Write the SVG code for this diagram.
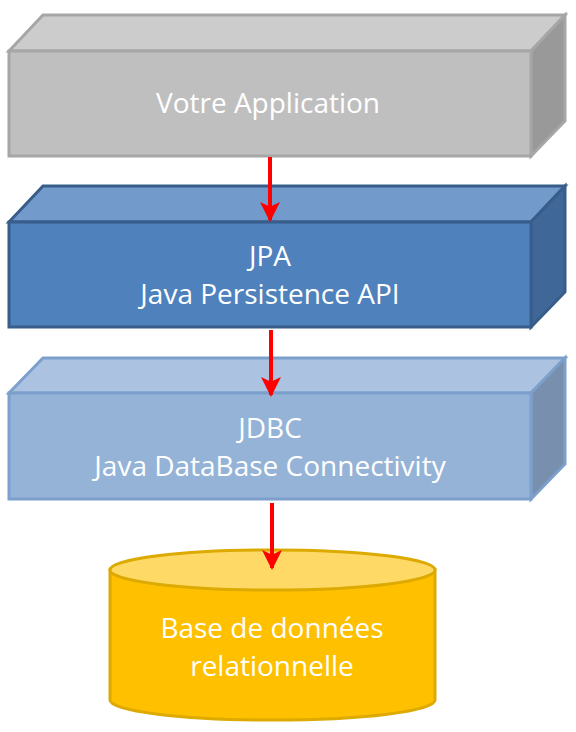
<svg xmlns="http://www.w3.org/2000/svg" width="576" height="732" viewBox="0 0 576 732">
<defs>
<style>
.t{font-family:"Open Sans","Noto Sans","Liberation Sans",sans-serif;font-size:28px;fill:#ffffff;text-anchor:middle}
.s{stroke-width:3;stroke-linejoin:miter}
.arr{stroke:#ff0000;stroke-width:4;fill:none}
</style>
<marker id="ah" markerWidth="5" markerHeight="5" refX="4.5" refY="2.5" orient="auto" markerUnits="strokeWidth">
<path d="M0,0 L5,2.5 L0,5 L1.2,2.5 Z" fill="#ff0000"/>
</marker>
</defs>
<rect width="576" height="732" fill="#ffffff"/>
<g id="app">
<polygon class="s" points="9,51 43,15 565,15 531,51" fill="#cccccc" stroke="#a6a6a6"/>
<polygon class="s" points="531,51 565,15 565,121 531,156" fill="#999999" stroke="#a6a6a6"/>
<rect class="s" x="9" y="51" width="522" height="105" fill="#bfbfbf" stroke="#a6a6a6"/>
<text class="t" x="268" y="113">Votre Application</text>
</g>
<g id="jpa">
<polygon class="s" points="9,222 43,186 565,186 531,222" fill="#729aca" stroke="#385d8a"/>
<polygon class="s" points="531,222 565,186 565,292 531,327" fill="#3f6797" stroke="#385d8a"/>
<rect class="s" x="9" y="222" width="522" height="105" fill="#4f81bd" stroke="#385d8a"/>
<text class="t" x="270" y="266">JPA</text>
<text class="t" x="270" y="304">Java Persistence API</text>
</g>
<g id="jdbc">
<polygon class="s" points="9,393 43,358 565,358 531,393" fill="#abc2e0" stroke="#7d9fcb"/>
<polygon class="s" points="531,393 565,358 565,464 531,499" fill="#7890ae" stroke="#7d9fcb"/>
<rect class="s" x="9" y="393" width="522" height="106" fill="#95b3d7" stroke="#7d9fcb"/>
<text class="t" x="270" y="438">JDBC</text>
<text class="t" x="270" y="476">Java DataBase Connectivity</text>
</g>
<g id="db">
<path class="s" d="M110,570 L110,700 A162.5,20 0 0 0 435,700 L435,570 Z" fill="#ffc000" stroke="#dcaa00"/>
<ellipse class="s" cx="272.5" cy="570" rx="162.5" ry="20" fill="#ffd966" stroke="#dcaa00"/>
<text class="t" x="272" y="638">Base de données</text>
<text class="t" x="272" y="676">relationnelle</text>
</g>
<g id="connectors">
<line class="arr" x1="270" y1="157" x2="270" y2="220" marker-end="url(#ah)"/>
<line class="arr" x1="271" y1="330" x2="271" y2="395" marker-end="url(#ah)"/>
<line class="arr" x1="272" y1="503" x2="272" y2="568" marker-end="url(#ah)"/>
</g>
</svg>
